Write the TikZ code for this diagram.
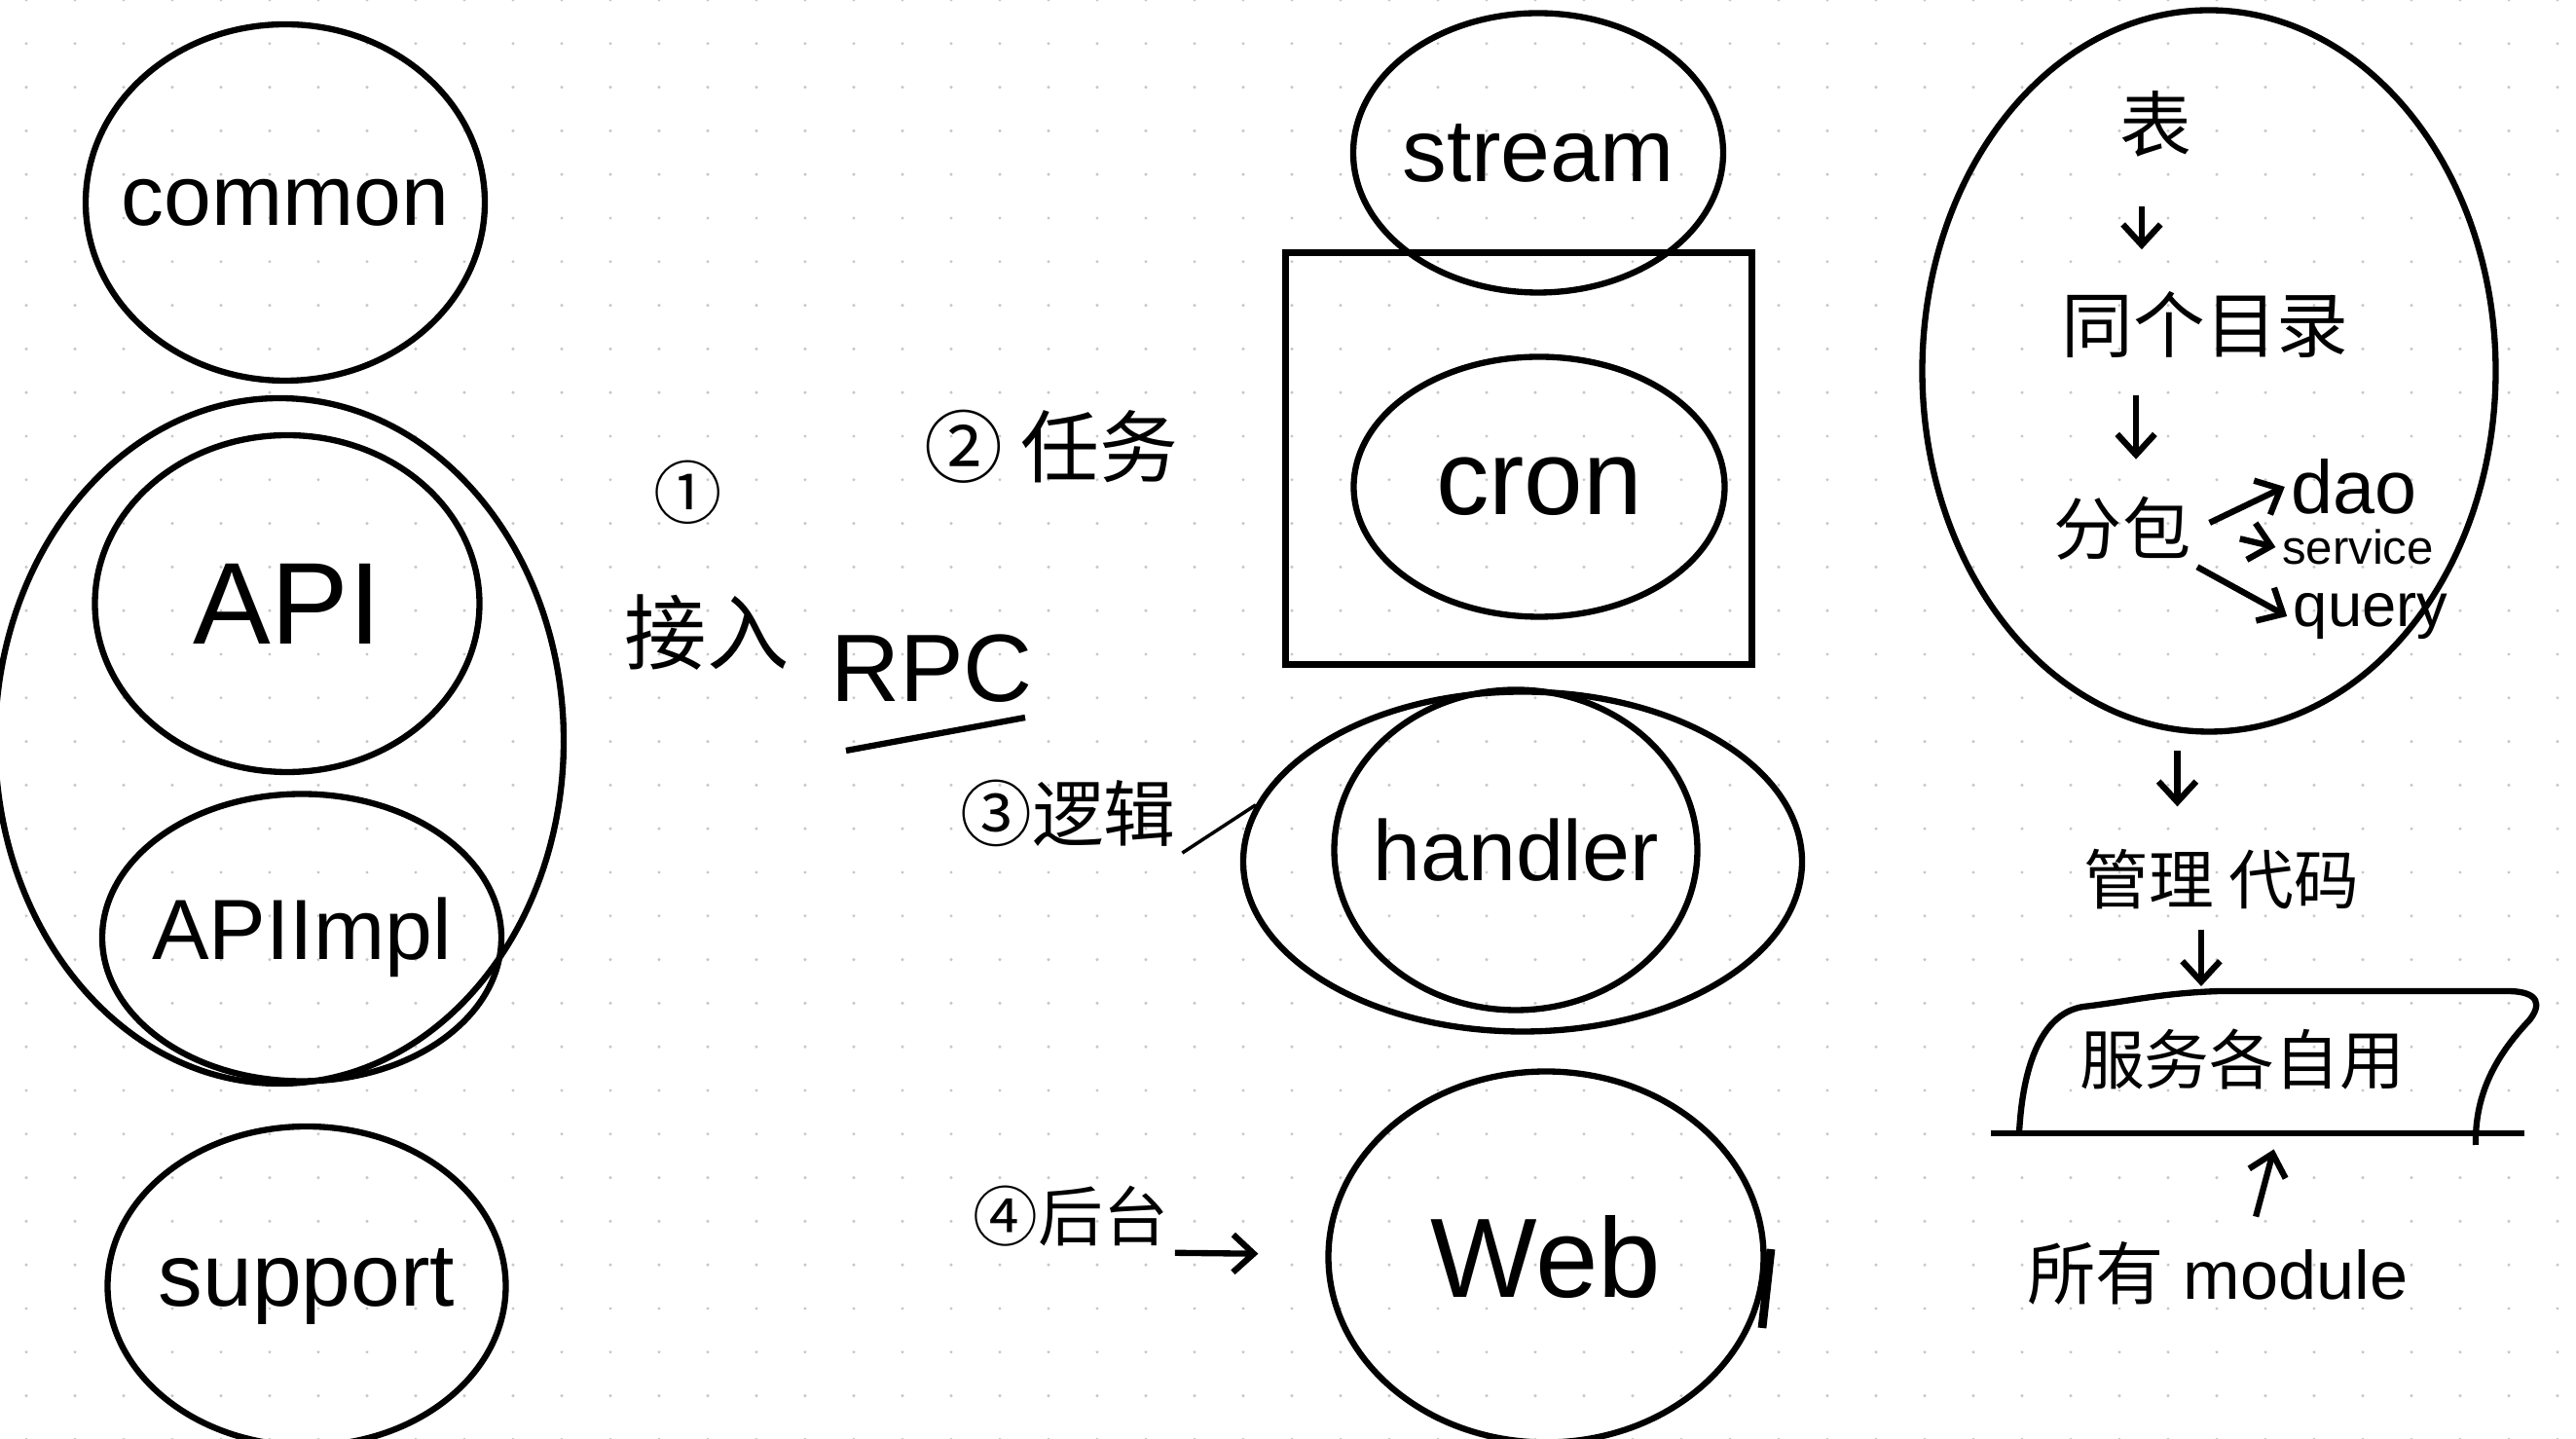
\documentclass[tikz,border=0pt]{standalone}
\usepackage{fontspec}
\setmainfont{Liberation Sans}
\newfontfamily\cjk{Noto Sans CJK SC}
\usetikzlibrary{shapes.geometric,arrows.meta}

\begin{document}
\begin{tikzpicture}[>={Straight Barb[length=6pt,width=11pt]},line width=1.8pt,
    blob/.style={draw, ellipse, inner sep=0pt},
    word/.style={inner sep=1pt, font=\fontsize{#1}{#1}\selectfont},
    zh/.style={inner sep=1pt, font=\cjk\fontsize{#1}{#1}\selectfont}]
        \useasboundingbox (0,0) rectangle (26.46,14.78);
        \fill[white] (0,0) rectangle (26.46,14.78);
        \foreach \i in {0,...,52}
            \foreach \j in {0,...,33}
                \fill[black!22] ({0.27+0.5*\i},{14.78-0.448*\j}) circle (0.017);
        % left column
        \node (common) [blob, minimum width=4.1cm, minimum height=3.66cm, label={[word=25]center:common}] at (2.93,12.70) {};
        \node (apiouter) [blob, minimum width=5.84cm, minimum height=7.04cm] at (2.87,7.17) {};
        \node (api) [blob, minimum width=3.95cm, minimum height=3.46cm, label={[word=34]center:API}] at (2.95,8.58) {};
        \node (apiimpl) [blob, minimum width=4.1cm, minimum height=2.95cm, label={[word=25]center:APIImpl}] at (3.10,5.15) {};
        \node (supp) [blob, minimum width=4.09cm, minimum height=3.28cm, label={[word=26]center:support}] at (3.15,1.57) {};
        % middle column
        \node (stream) [blob, minimum width=3.8cm, minimum height=2.87cm, label={[word=26]center:stream}] at (15.80,13.21) {};
        \node (cronbox) [draw, minimum width=4.79cm, minimum height=4.23cm] at (15.60,10.07) {};
        \node (cron) [blob, minimum width=3.81cm, minimum height=2.67cm, label={[word=31]center:cron}] at (15.81,9.78) {};
        \node (handlerouter) [blob, minimum width=5.74cm, minimum height=3.49cm] at (15.64,5.93) {};
        \node (handler) [blob, minimum width=3.73cm, minimum height=3.29cm, label={[word=25]center:handler}] at (15.57,6.05) {};
        \node (web) [blob, minimum width=4.47cm, minimum height=3.81cm, label={[word=33]center:Web}] at (15.88,1.87) {};
        \draw[line width=2.5pt] (18.19,1.95) -- (18.10,1.14);
        % labels between
        \node (num1) [zh=20] at (7.07,9.72) {①};
        \node (access) [zh=24] at (7.26,8.28) {接入};
        \node (rpc) [word=28] at (9.57,7.91) {RPC};
        \draw (8.69,7.07) -- (10.53,7.41);
        \node (task) [zh=23] at (10.80,10.19) {② 任务};
        \node (logic) [zh=21] at (10.97,6.43) {③逻辑};
        \draw[line width=1pt] (logic.south east) -- (handlerouter.168);
        \node (backend) [zh=19] at (11.0,2.29) {④后台};
        \draw[->, shorten >=0.69cm] (backend.south east) -- (web);
        % right column
        \node (flow) [blob, minimum width=5.89cm, minimum height=7.41cm] at (22.69,10.97) {};
        \node (biao) [zh=21] at (22.14,13.51) {表};
        \node (samedir) [zh=21] at (22.65,11.44) {同个目录};
        \node (pkg) [zh=20] at (21.80,9.35) {分包};
        \node (dao) [word=22] at (24.18,9.78) {dao};
        \node (service) [word=14] at (24.22,9.16) {service};
        \node (query) [word=18] at (24.35,8.45) {query};
        \draw[->, shorten <=0.44cm, shorten >=0.37cm] ([xshift=-4pt]biao.south) -- ([xshift=-4pt]biao.south |- samedir.north);
        \draw[->, shorten <=0.31cm, shorten >=0.32cm] ([xshift=4pt]pkg.north |- samedir.south) -- ([xshift=4pt]pkg.north);
        \draw[->, shorten <=4pt] (pkg.east) -- (dao.west);
        \draw[->, shorten <=0.45cm] (pkg.east) -- (service.west);
        \draw[->] (pkg.south east) -- (query.west);
        \node (manage) [zh=19] at (22.82,5.75) {管理 代码};
        \draw[->, shorten <=0.19cm, shorten >=0.37cm] (flow.265) -- (flow.265 |- manage.north);
        \coordinate (basetop) at (22.61,4.55);
        \draw[->, shorten <=0.14cm, shorten >=0.1cm] (manage.south -| basetop) -- (basetop);
        \draw (20.45,3.14) -- (25.93,3.14);
        \draw (20.74,3.14) .. controls (20.78,3.9) and (21.0,4.38) .. (21.4,4.44)
            .. controls (21.9,4.5) and (22.2,4.58) .. (22.8,4.6) -- (25.75,4.6)
            .. controls (26.1,4.6) and (26.1,4.45) .. (25.98,4.3)
            .. controls (25.6,3.9) and (25.42,3.5) .. (25.43,3.02);
        \node (basetext) [zh=19] at (23.03,3.90) {服务各自用};
        \node (allmod) [word=20] at (22.78,1.70) {{\cjk 所有} module};
        \coordinate (baseln) at (23.40,3.14);
        \draw[->, shorten <=0.2cm, shorten >=0.17cm] ([xshift=0.34cm]allmod.north) -- (baseln);
    \end{tikzpicture}
\end{document}
